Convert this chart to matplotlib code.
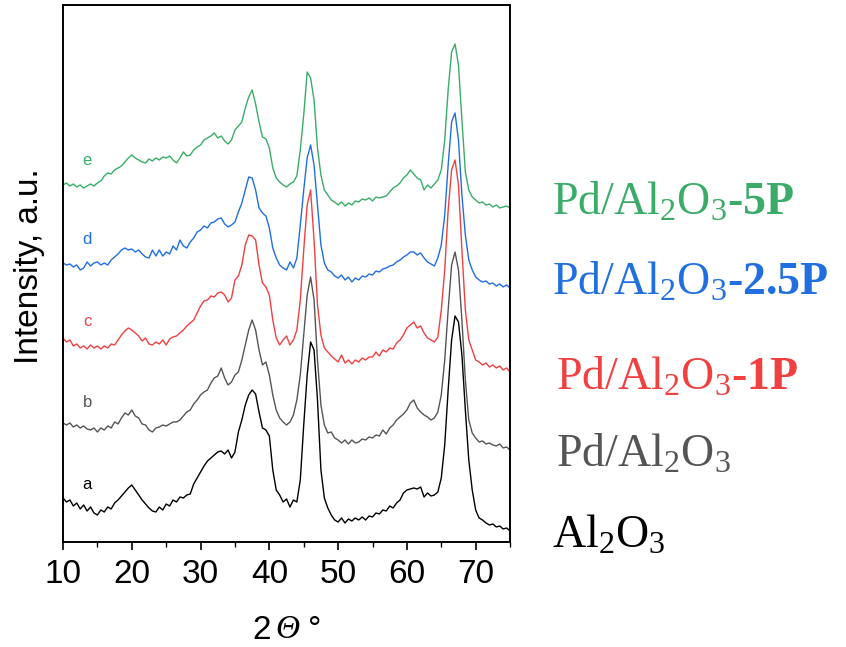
import numpy as np
import matplotlib
matplotlib.use("Agg")
import matplotlib.pyplot as plt
from matplotlib.ticker import MultipleLocator

plt.rcParams["font.family"] = ["Liberation Sans", "DejaVu Sans"]
plt.rcParams["mathtext.fontset"] = "custom"
plt.rcParams["mathtext.rm"] = "Liberation Serif"
plt.rcParams["mathtext.it"] = "Liberation Serif:italic"
plt.rcParams["mathtext.bf"] = "Liberation Serif:bold"

# 2theta grid, step 0.5 deg
two_theta = np.arange(10, 75.01, 0.5)

# stacked intensities (a.u., offsets already included)
int_a = [47, 43, 45, 39, 42, 36, 40, 34, 38, 32,
         30, 35, 33, 38, 36, 42, 45, 49, 53, 57,
         60, 55, 50, 45, 41, 37, 34, 33, 38, 35,
         41, 39, 45, 43, 48, 47, 50, 51, 61, 67,
         73, 79, 84, 87, 90, 93, 94, 91, 95, 87,
         93, 113, 125, 140, 150, 155, 151, 133, 117, 115,
         109, 75, 55, 50, 43, 46, 38, 45, 43, 65,
         120, 170, 203, 195, 145, 75, 47, 37, 30, 25,
         23, 27, 22, 26, 24, 27, 25, 28, 25, 29,
         28, 32, 31, 35, 34, 39, 37, 42, 45, 52,
         55, 56, 57, 56, 58, 48, 52, 49, 50, 53,
         67, 100, 155, 205, 229, 223, 190, 135, 85, 55,
         35, 27, 25, 22, 20, 21, 18, 19, 16, 17,
         14]

int_b = [122, 120, 122, 118, 120, 117, 119, 116, 115, 117,
         113, 117, 115, 119, 117, 123, 121, 127, 132, 130,
         135, 129, 127, 121, 120, 115, 113, 117, 118, 120,
         119, 121, 123, 123, 125, 129, 133, 135, 141, 145,
         150, 153, 155, 162, 167, 169, 177, 167, 160, 163,
         170, 173, 185, 200, 215, 225, 215, 195, 180, 183,
         170, 150, 135, 127, 123, 120, 123, 130, 145, 170,
         210, 250, 268, 245, 185, 140, 120, 112, 113, 107,
         105, 102, 105, 101, 105, 102, 103, 106, 105, 108,
         107, 110, 109, 115, 111, 117, 120, 125, 128, 131,
         135, 142, 145, 137, 133, 130, 128, 125, 127, 133,
         150, 185, 235, 280, 293, 275, 225, 165, 125, 112,
         107, 103, 104, 101, 102, 100, 99, 101, 97, 98,
         95]

int_c = [207, 203, 205, 199, 201, 197, 199, 196, 200, 197,
         199, 196, 199, 197, 201, 200, 205, 210, 214, 217,
         215, 212, 209, 204, 207, 201, 200, 203, 201, 205,
         200, 206, 208, 209, 212, 215, 219, 222, 225, 232,
         239, 244, 245, 249, 248, 252, 253, 250, 243, 247,
         265, 269, 280, 300, 310, 309, 305, 280, 262, 258,
         250, 225, 207, 200, 205, 209, 200, 205, 215, 245,
         295, 340, 355, 305, 240, 210, 197, 193, 189, 186,
         183, 190, 182, 185, 181, 185, 183, 187, 185, 188,
         188, 193, 189, 195, 193, 197, 196, 202, 205, 210,
         217, 220, 223, 217, 219, 212, 207, 205, 203, 208,
         235, 275, 335, 375, 385, 360, 295, 235, 205, 195,
         185, 183, 180, 182, 178, 180, 177, 179, 175, 177,
         173]

int_d = [282, 280, 281, 278, 280, 275, 277, 283, 279, 282,
         283, 280, 282, 280, 285, 288, 291, 295, 297, 295,
         296, 293, 295, 291, 288, 287, 295, 289, 295, 289,
         293, 291, 299, 295, 305, 299, 297, 303, 307, 313,
         315, 319, 317, 322, 323, 326, 327, 321, 318, 320,
         323, 333, 342, 355, 368, 367, 355, 337, 332, 329,
         317, 297, 287, 280, 277, 275, 283, 277, 287, 320,
         355, 387, 400, 380, 340, 300, 282, 275, 273, 269,
         267, 270, 265, 268, 263, 267, 265, 269, 268, 271,
         270, 274, 273, 276, 277, 279, 280, 283, 285, 288,
         290, 293, 293, 290, 292, 287, 283, 281, 279, 287,
         300, 330, 380, 423, 432, 405, 350, 310, 285, 275,
         268, 265, 263, 264, 261, 262, 259, 261, 258, 260,
         257]

int_e = [360, 362, 359, 361, 358, 360, 357, 359, 361, 359,
         362, 364, 369, 372, 371, 375, 377, 379, 383, 387,
         390, 387, 385, 383, 382, 386, 384, 387, 385, 388,
         387, 389, 385, 382, 387, 393, 389, 390, 395, 398,
         400, 405, 407, 409, 412, 407, 409, 404, 401, 405,
         415, 419, 423, 437, 448, 455, 441, 423, 408, 406,
         397, 377, 367, 363, 360, 358, 361, 363, 369, 395,
         430, 473, 467, 445, 397, 370, 355, 350, 345, 343,
         340, 343, 339, 342, 340, 344, 343, 346, 345, 347,
         344, 348, 347, 348, 349, 353, 357, 359, 362, 367,
         370, 375, 371, 367, 365, 355, 360, 357, 361, 365,
         375, 405, 455, 493, 501, 480, 425, 373, 355, 348,
         345, 342, 343, 340, 341, 338, 340, 337, 338, 339,
         337]

curve_letters = ["a", "b", "c", "d", "e"]
sample_names = [r"Al$_2$O$_3$",
                r"Pd/Al$_2$O$_3$",
                r"Pd/Al$_2$O$_3$-$\mathbf{1P}$",
                r"Pd/Al$_2$O$_3$-$\mathbf{2.5P}$",
                r"Pd/Al$_2$O$_3$-$\mathbf{5P}$"]
colors = ["#000000", "#555555", "#f04040", "#1f6fe0", "#3aac68"]

fig = plt.figure(figsize=(8.46, 6.47), dpi=100)
ax = fig.add_axes([0.0745, 0.1623, 0.5284, 0.830])

series = [int_a, int_b, int_c, int_d, int_e]
for y, c in zip(series, colors):
    ax.plot(two_theta, y, color=c, lw=1.0)

# small letters on the left of each pattern
letter_y = [60, 142, 223, 305, 384]
for lab, ly, c in zip(curve_letters, letter_y, colors):
    ax.text(13.5, ly, lab, color=c, fontsize=12, ha="center", va="center")

ax.set_xlim(10, 75)
ax.set_ylim(3, 540)
ax.xaxis.set_major_locator(MultipleLocator(10))
ax.xaxis.set_minor_locator(MultipleLocator(5))
ax.tick_params(axis="x", which="major", labelsize=24, length=6, width=1.2, direction="out", pad=6)
ax.tick_params(axis="x", which="minor", length=3.5, width=1.0, direction="out")
ax.set_yticks([])
for sp in ax.spines.values():
    sp.set_linewidth(1.4)

ax.set_ylabel("Intensity, a.u.", fontsize=24)
ax.yaxis.set_label_coords(-0.040, 0.514)

# x label: "2", italic theta, degree sign
ax.text(0.423, -0.164, "2", transform=ax.transAxes, fontsize=24, ha="left", va="center")
ax.text(0.474, -0.164, "Θ", transform=ax.transAxes, fontsize=24, ha="left", va="center",
        family="Liberation Serif", style="italic")
ax.text(0.548, -0.164, "°", transform=ax.transAxes, fontsize=24, ha="left", va="center")

# sample names on the right
name_pos = [(0.652, 0.153), (0.657, 0.278), (0.657, 0.397), (0.652, 0.544), (0.652, 0.668)]
for name, (nx, ny), c in zip(sample_names, name_pos, colors):
    fig.text(nx, ny, name, color=c, fontsize=33, family="Liberation Serif",
             ha="left", va="baseline")

fig.savefig("out.png", dpi=100)
